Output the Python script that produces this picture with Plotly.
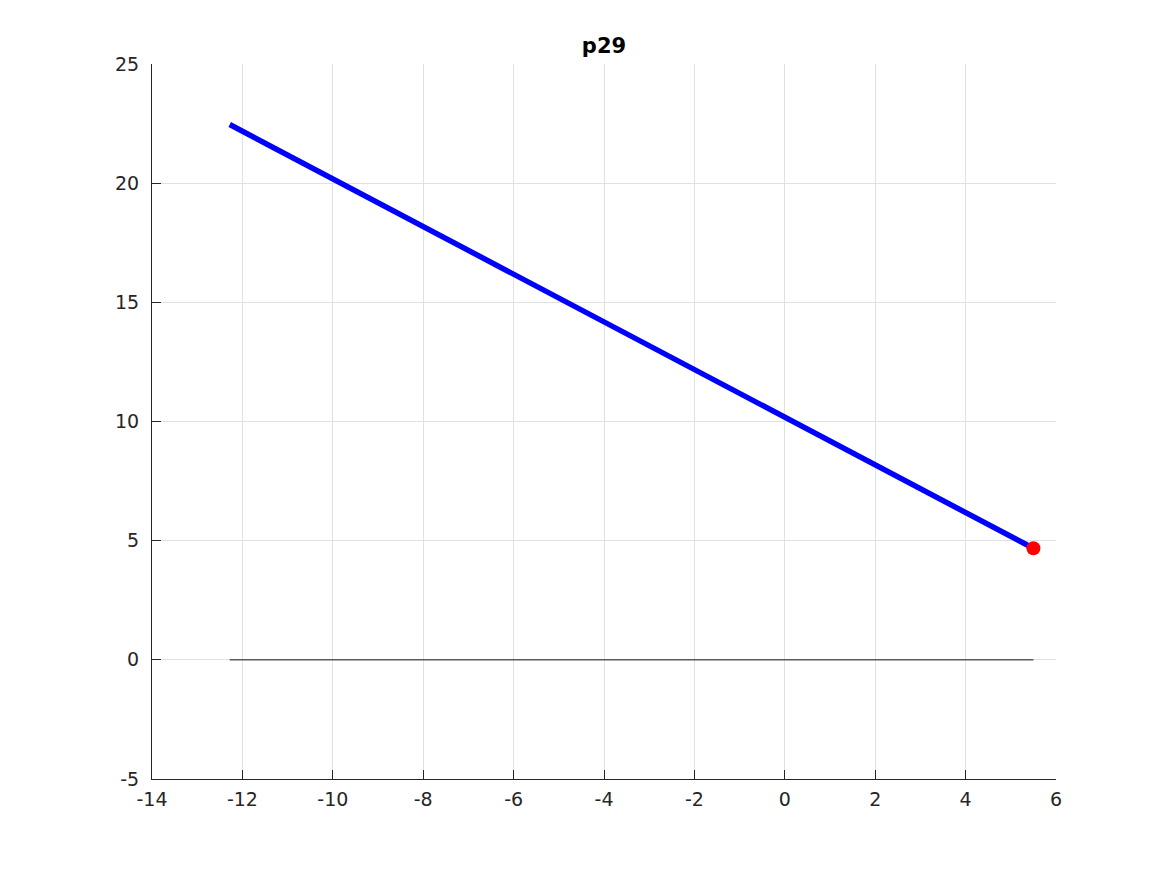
import plotly.graph_objects as go

line_x = [-12.28, 5.5]
line_y = [22.46, 4.68]
base_x = [-12.28, 5.5]
base_y = [0, 0]
end_x = [5.5]
end_y = [4.68]
x_ticks = [-14, -12, -10, -8, -6, -4, -2, 0, 2, 4, 6]
y_ticks = [-5, 0, 5, 10, 15, 20, 25]
title = "p29"

fig = go.Figure()
fig.add_trace(go.Scatter(x=base_x, y=base_y, mode="lines",
                         line=dict(color="#5a5a5a", width=1.5), showlegend=False))
fig.add_trace(go.Scatter(x=line_x, y=line_y, mode="lines",
                         line=dict(color="#0000ff", width=5.5), showlegend=False))
fig.add_trace(go.Scatter(x=end_x, y=end_y, mode="markers",
                         marker=dict(color="#ff0000", size=14), showlegend=False))

axis_common = dict(showgrid=True, gridcolor="#e1e1e1", gridwidth=1,
                   zeroline=False, showline=True, linecolor="#262626", linewidth=1,
                   ticks="inside", ticklen=9, tickcolor="#262626",
                   tickfont=dict(family="DejaVu Sans", size=19, color="#262626"),
                   mirror=False)
fig.update_xaxes(range=[-14, 6], tickvals=x_ticks, ticktext=[str(v) for v in x_ticks],
                 ticklabelstandoff=3, **axis_common)
fig.update_yaxes(range=[-5, 25], tickvals=y_ticks, ticktext=[str(v) for v in y_ticks],
                 ticklabelstandoff=8, **axis_common)

fig.update_layout(
    width=1159, height=867,
    margin=dict(l=144, r=111, t=56, b=96),
    paper_bgcolor="white", plot_bgcolor="white",
    title=dict(text="<b>" + title + "</b>", x=(604 - 8) / 1159, xanchor="center",
               y=1 - (46 - 8) / 867, yanchor="middle",
               font=dict(family="DejaVu Sans", size=21, color="black")),
)
fig.write_html("out.html")
